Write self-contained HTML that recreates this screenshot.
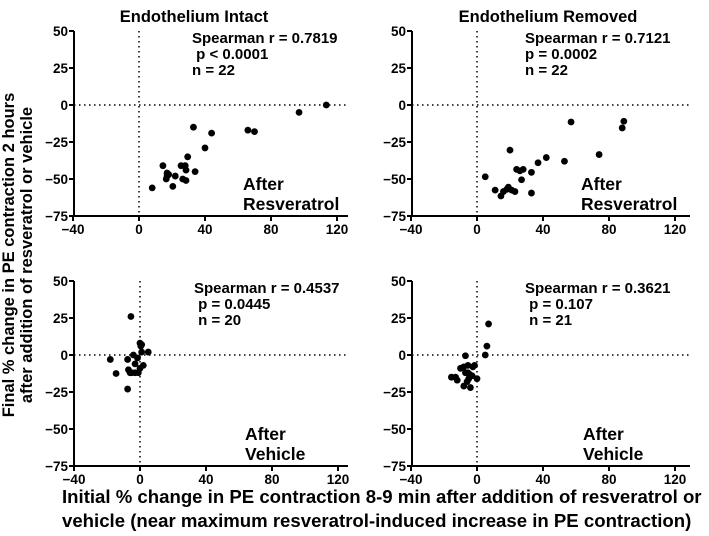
<!DOCTYPE html>
<html><head><meta charset="utf-8"><style>
body{margin:0;background:#fff}
svg{display:block;font-family:"Liberation Sans",Arial,sans-serif;font-weight:bold}
</style></head><body>
<svg id="c" width="709" height="536">
<text x="194" y="22" font-size="16.5" text-anchor="middle">Endothelium Intact</text>
<text x="548" y="22" font-size="16.5" text-anchor="middle">Endothelium Removed</text>
<g transform="translate(14,255) rotate(-90)">
<text x="0" y="0" font-size="16.5" text-anchor="middle">Final % change in PE contraction 2 hours</text>
<text x="0" y="18" font-size="16.5" text-anchor="middle">after addition of resveratrol or vehicle</text></g>
<text x="62" y="503" font-size="18.6">Initial % change in PE contraction 8-9 min after addition of resveratrol or</text>
<text x="62" y="527" font-size="18.6">vehicle (near maximum resveratrol-induced increase in PE contraction)</text>
</svg>
<script>
const xTicks=[-40,0,40,80,120];
const yTicks=[50,25,0,-25,-50,-75];
const p1x=[113.5,97,66,70,33,44,40,29.5,14.5,25.5,28,28.5,34,17,17,22,16.5,26.5,28.5,20.5,8,18];
const p1y=[0,-5,-17,-18,-15,-19,-29,-35,-41,-41,-41,-44,-45,-46,-48,-48,-50,-50,-51,-55,-56,-47];
const p2x=[89,88,57,74,53,42,37,20,24,26,28,27,33,33,5,11,16,14.5,19,21,23,18];
const p2y=[-11,-15.5,-11.5,-33.5,-38,-35.5,-39,-30.5,-43.5,-44.5,-43.5,-50.5,-45.5,-59.5,-48.5,-57.5,-58.5,-61.5,-55.5,-57.5,-58.5,-57];
const p3x=[-5.5,-18,-14.5,-7.5,-7.5,-3,-1.5,0,1,0.5,1,5,2,0,-3,-6,-7,-5,-1,-4];
const p3y=[26,-3,-12.5,-23,-3,-6,-2,8,7,6,2,2,-7,-9,-12,-12,-10,-12,-12,0];
const p4x=[7,6,5,-7,-15.5,-12,-8,-4,0,-8,-5.5,-2.5,-7,-4.5,-5,-3,-13,-6,-10,-1.5,-5.5];
const p4y=[21,6,0,-0.5,-15,-17,-21,-22,-16,-8,-7,-8,-12,-13,-16,-14,-15,-18,-9,-7,-12];
const panels=[
 {n:'intact-resveratrol',ax:74,x0:139,xe:348,y0:105,xs:p1x,ys:p1y,st:['Spearman r = 0.7819',' p < 0.0001','n = 22'],sx:192,lab:['After','Resveratrol'],lx:243,ly:190},
 {n:'removed-resveratrol',ax:412,x0:477,xe:690,y0:105,xs:p2x,ys:p2y,st:['Spearman r = 0.7121','p = 0.0002','n = 22'],sx:525,lab:['After','Resveratrol'],lx:581,ly:190},
 {n:'intact-vehicle',ax:74,x0:140,xe:348,y0:355,xs:p3x,ys:p3y,st:['Spearman r = 0.4537',' p = 0.0445',' n = 20'],sx:194,lab:['After','Vehicle'],lx:245,ly:440},
 {n:'removed-vehicle',ax:412,x0:477,xe:690,y0:355,xs:p4x,ys:p4y,st:['Spearman r = 0.3621',' p = 0.107',' n = 21'],sx:525,lab:['After','Vehicle'],lx:583,ly:440}];
const svg=document.getElementById('c');const NS='http://www.w3.org/2000/svg';
function mk(t,a,p){const e=document.createElementNS(NS,t);for(const k in a)e.setAttribute(k,a[k]);(p||svg).appendChild(e);return e;}
panels.forEach(P=>{
 const kx=1.65,ky=1.48;
 const X=v=>P.x0+v*kx, Y=v=>P.y0-v*ky;
 const g=mk('g',{});
 
 
 const yb=Y(-75),yt=Y(50);
 const ya=mk('line',{x1:P.ax,x2:P.ax,y1:yt,y2:yb,stroke:'#000','stroke-width':2},g);
 
 
 const xa=mk('line',{x1:P.ax-1,x2:P.xe,y1:yb,y2:yb,stroke:'#000','stroke-width':2},g);
 
 
 mk('line',{x1:P.ax,x2:P.xe,y1:Y(0),y2:Y(0),stroke:'#000','stroke-width':1.5,'stroke-dasharray':'1.5 3.5'},g);
 mk('line',{x1:X(0),x2:X(0),y1:yt,y2:yb,stroke:'#000','stroke-width':1.5,'stroke-dasharray':'1.5 3.5'},g);
 yTicks.forEach(t=>{mk('line',{x1:P.ax-5,x2:P.ax,y1:Y(t),y2:Y(t),stroke:'#000','stroke-width':2},g);
  const tx=mk('text',{x:P.ax-6,y:Y(t)+5,'font-size':13.5,'text-anchor':'end'},g);tx.textContent=t<0?'\u2212'+(-t):t;
  
  });
 xTicks.forEach(t=>{mk('line',{x1:X(t),x2:X(t),y1:yb,y2:yb+5,stroke:'#000','stroke-width':2},g);
  const tx=mk('text',{x:X(t),y:yb+18,'font-size':13.5,'text-anchor':'middle'},g);tx.textContent=t<0?'\u2212'+(-t):t;
  
  });
 P.xs.forEach((v,i)=>{const c=mk('circle',{cx:X(v),cy:Y(P.ys[i]),r:3.4,fill:'#000'},g);
  
  });
 P.st.forEach((s,i)=>{const t=mk('text',{x:P.sx,y:43+(P.y0-105)+i*16,'font-size':15},g);t.textContent=s;t.style.whiteSpace='pre';
  
  });
 P.lab.forEach((s,i)=>{const t=mk('text',{x:P.lx,y:P.ly+i*20,'font-size':17.5},g);t.textContent=s;
  
  });
});
</script>
</body></html>
